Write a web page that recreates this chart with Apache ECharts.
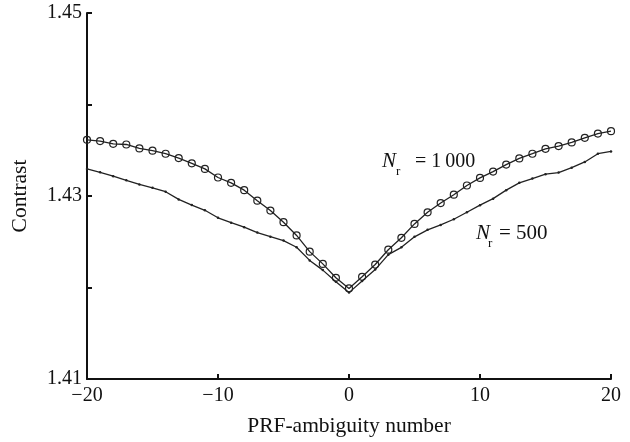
<!DOCTYPE html>
<html><head><meta charset="utf-8">
<script src="https://cdn.jsdelivr.net/npm/echarts@6/dist/echarts.min.js"></script>
<style>html,body{margin:0;padding:0;background:#fff}#c{width:630px;height:442px}</style>
</head><body><div id="c"></div>
<script>
var xValues = [-20,-19,-18,-17,-16,-15,-14,-13,-12,-11,-10,-9,-8,-7,-6,-5,-4,-3,-2,-1,0,1,2,3,4,5,6,7,8,9,10,11,12,13,14,15,16,17,18,19,20];
var nr1000 = [1.43614,1.43600,1.43570,1.43563,1.43520,1.43495,1.43462,1.43415,1.43357,1.43296,1.43202,1.43144,1.43064,1.42949,1.42841,1.42714,1.42569,1.42392,1.42258,1.42106,1.41990,1.42117,1.42251,1.42413,1.42543,1.42695,1.42822,1.42923,1.43014,1.43115,1.43198,1.43267,1.43343,1.43411,1.43462,1.43516,1.43546,1.43585,1.43636,1.43682,1.43708];
var nr500 = [1.43296,1.43259,1.43216,1.43172,1.43126,1.43090,1.43047,1.42963,1.42901,1.42844,1.42762,1.42708,1.42659,1.42600,1.42556,1.42513,1.42440,1.42296,1.42190,1.42063,1.41944,1.42070,1.42196,1.42359,1.42439,1.42554,1.42630,1.42684,1.42746,1.42822,1.42900,1.42971,1.43064,1.43144,1.43191,1.43238,1.43256,1.43310,1.43372,1.43462,1.43487];
var yLabelValues = [1.41, 1.43, 1.45];

function pairs(xs, ys){ return xs.map(function(x,i){ return [x, ys[i]]; }); }
var font = 'Liberation Serif';
var chart = echarts.init(document.getElementById('c'));
chart.setOption({
  animation: false,
  backgroundColor: '#fff',
  grid: {left: 87, right: 19, top: 13, bottom: 60},
  xAxis: {
    type: 'value', min: -20, max: 20, interval: 10,
    name: 'PRF-ambiguity number', nameLocation: 'middle', nameGap: 36,
    nameTextStyle: {fontFamily: font, fontSize: 21.5, color: '#111'},
    axisLine: {show: true, onZero: false, lineStyle: {color: '#111', width: 2}},
    axisTick: {show: true, inside: true, length: 5, lineStyle: {color: '#111', width: 2}},
    axisLabel: {fontFamily: font, fontSize: 20, color: '#111', margin: 7,
      formatter: function(v){ return v < 0 ? '\u2212' + Math.abs(v) : String(v); }},
    splitLine: {show: false}
  },
  yAxis: {
    type: 'value', min: 1.41, max: 1.45, interval: 0.01,
    name: 'Contrast', nameLocation: 'middle', nameGap: 56,
    nameTextStyle: {fontFamily: font, fontSize: 21.5, color: '#111'},
    axisLine: {show: true, onZero: false, lineStyle: {color: '#111', width: 2}},
    axisTick: {show: true, inside: true, length: 5, lineStyle: {color: '#111', width: 2}},
    axisLabel: {fontFamily: font, fontSize: 20, color: '#111', margin: 5,
      formatter: function(v){
        var r = Math.round(v*100)/100;
        for (var i=0;i<yLabelValues.length;i++){ if (Math.abs(yLabelValues[i]-r)<1e-9) return r.toFixed(2); }
        return '';
      }},
    splitLine: {show: false}
  },
  series: [
    {type: 'line', name: 'Nr=1000', data: pairs(xValues, nr1000), symbol: 'circle', symbolSize: 7,
     itemStyle: {color: 'rgba(255,255,255,0)', borderColor: '#222', borderWidth: 1.2},
     lineStyle: {color: '#222', width: 1.3}, z: 3},
    {type: 'line', name: 'Nr=500', data: pairs(xValues, nr500), symbol: 'circle', symbolSize: 2.5,
     itemStyle: {color: '#222', borderWidth: 0},
     lineStyle: {color: '#222', width: 1.3}, z: 2}
  ],
  graphic: [
    {type: 'text', left: 382, top: 151, style: {text: 'N', font: 'italic 21px "Liberation Serif"', fill: '#111'}},
    {type: 'text', left: 396, top: 165, style: {text: 'r', font: '13px "Liberation Serif"', fill: '#111'}},
    {type: 'text', left: 415, top: 152, style: {text: '= 1\u2009000', font: '20px "Liberation Serif"', fill: '#111'}},
    {type: 'text', left: 476, top: 223, style: {text: 'N', font: 'italic 21px "Liberation Serif"', fill: '#111'}},
    {type: 'text', left: 488, top: 237, style: {text: 'r', font: '13px "Liberation Serif"', fill: '#111'}},
    {type: 'text', left: 499, top: 223, style: {text: '= 500', font: '21px "Liberation Serif"', fill: '#111'}}
  ]
});
</script></body></html>
